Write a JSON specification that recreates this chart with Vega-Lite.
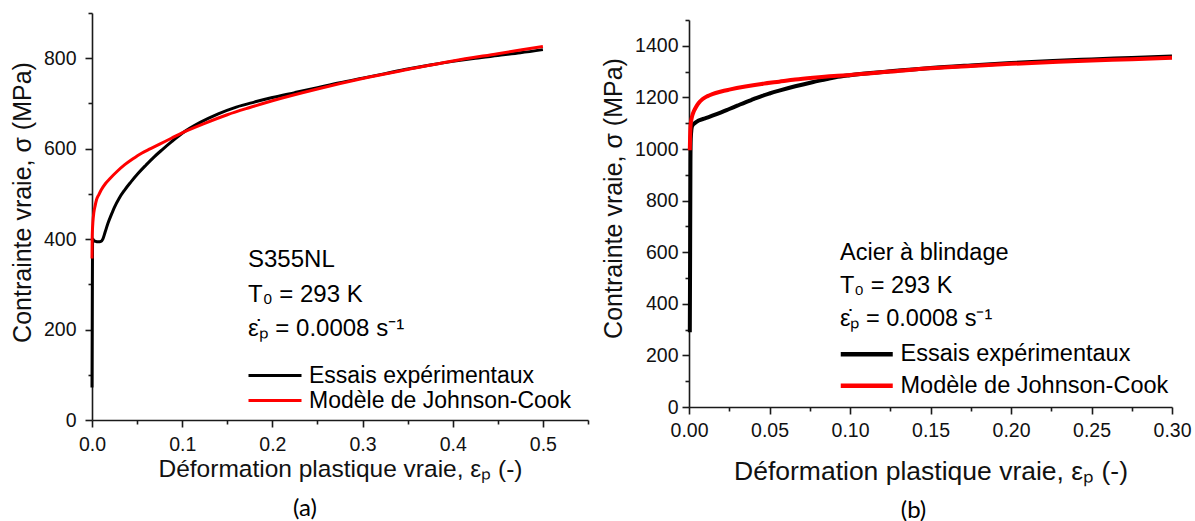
{
  "$schema": "https://vega.github.io/schema/vega-lite/v6.json",
  "padding": {"left": 10, "top": 3, "right": 2, "bottom": 0},
  "background": "white",
  "config": {
    "font": "Liberation Sans",
    "view": {"stroke": null},
    "axis": {"grid": false, "domainColor": "#1a1a1a", "domainWidth": 1.6, "tickColor": "#1a1a1a", "tickWidth": 1.6, "labelColor": "#111", "labelFontSize": 19.5, "labelFont": "Liberation Sans", "titleFont": "Liberation Sans", "titleFontWeight": "normal", "titleColor": "#111", "labelOverlap": false, "labelFlush": false},
    "legend": {"labelFont": "Liberation Sans", "titleFont": "Liberation Sans", "titleFontWeight": "normal", "titleColor": "#000", "labelColor": "#000", "labelLimit": 0, "titleLimit": 0}
  },
  "datasets": {
    "a": [
      {"eps": 0, "sigma": 72, "serie": "Essais expérimentaux"},
      {"eps": 0.0003, "sigma": 250, "serie": "Essais expérimentaux"},
      {"eps": 0.0006, "sigma": 390, "serie": "Essais expérimentaux"},
      {"eps": 0.001, "sigma": 400, "serie": "Essais expérimentaux"},
      {"eps": 0.002, "sigma": 397, "serie": "Essais expérimentaux"},
      {"eps": 0.004, "sigma": 395, "serie": "Essais expérimentaux"},
      {"eps": 0.007, "sigma": 394, "serie": "Essais expérimentaux"},
      {"eps": 0.01, "sigma": 395, "serie": "Essais expérimentaux"},
      {"eps": 0.012, "sigma": 400, "serie": "Essais expérimentaux"},
      {"eps": 0.0145, "sigma": 415, "serie": "Essais expérimentaux"},
      {"eps": 0.0177, "sigma": 435, "serie": "Essais expérimentaux"},
      {"eps": 0.021, "sigma": 452, "serie": "Essais expérimentaux"},
      {"eps": 0.025, "sigma": 471, "serie": "Essais expérimentaux"},
      {"eps": 0.03, "sigma": 490, "serie": "Essais expérimentaux"},
      {"eps": 0.036, "sigma": 508, "serie": "Essais expérimentaux"},
      {"eps": 0.043, "sigma": 526, "serie": "Essais expérimentaux"},
      {"eps": 0.051, "sigma": 545, "serie": "Essais expérimentaux"},
      {"eps": 0.06, "sigma": 564, "serie": "Essais expérimentaux"},
      {"eps": 0.069, "sigma": 582, "serie": "Essais expérimentaux"},
      {"eps": 0.078, "sigma": 598, "serie": "Essais expérimentaux"},
      {"eps": 0.088, "sigma": 615, "serie": "Essais expérimentaux"},
      {"eps": 0.1, "sigma": 634, "serie": "Essais expérimentaux"},
      {"eps": 0.12, "sigma": 658, "serie": "Essais expérimentaux"},
      {"eps": 0.14, "sigma": 677, "serie": "Essais expérimentaux"},
      {"eps": 0.16, "sigma": 692, "serie": "Essais expérimentaux"},
      {"eps": 0.18, "sigma": 703, "serie": "Essais expérimentaux"},
      {"eps": 0.2, "sigma": 713, "serie": "Essais expérimentaux"},
      {"eps": 0.225, "sigma": 724, "serie": "Essais expérimentaux"},
      {"eps": 0.25, "sigma": 735, "serie": "Essais expérimentaux"},
      {"eps": 0.275, "sigma": 746, "serie": "Essais expérimentaux"},
      {"eps": 0.3, "sigma": 756, "serie": "Essais expérimentaux"},
      {"eps": 0.325, "sigma": 766, "serie": "Essais expérimentaux"},
      {"eps": 0.35, "sigma": 776, "serie": "Essais expérimentaux"},
      {"eps": 0.375, "sigma": 785, "serie": "Essais expérimentaux"},
      {"eps": 0.4, "sigma": 793, "serie": "Essais expérimentaux"},
      {"eps": 0.425, "sigma": 800, "serie": "Essais expérimentaux"},
      {"eps": 0.45, "sigma": 806, "serie": "Essais expérimentaux"},
      {"eps": 0.475, "sigma": 812, "serie": "Essais expérimentaux"},
      {"eps": 0.5, "sigma": 819, "serie": "Essais expérimentaux"},
      {"eps": 0, "sigma": 357, "serie": "Modèle de Johnson-Cook"},
      {"eps": 0.0002, "sigma": 400, "serie": "Modèle de Johnson-Cook"},
      {"eps": 0.0005, "sigma": 420, "serie": "Modèle de Johnson-Cook"},
      {"eps": 0.001, "sigma": 438, "serie": "Modèle de Johnson-Cook"},
      {"eps": 0.002, "sigma": 458, "serie": "Modèle de Johnson-Cook"},
      {"eps": 0.0035, "sigma": 474, "serie": "Modèle de Johnson-Cook"},
      {"eps": 0.005, "sigma": 487, "serie": "Modèle de Johnson-Cook"},
      {"eps": 0.0075, "sigma": 498, "serie": "Modèle de Johnson-Cook"},
      {"eps": 0.01, "sigma": 508, "serie": "Modèle de Johnson-Cook"},
      {"eps": 0.015, "sigma": 523, "serie": "Modèle de Johnson-Cook"},
      {"eps": 0.02, "sigma": 534, "serie": "Modèle de Johnson-Cook"},
      {"eps": 0.028, "sigma": 550, "serie": "Modèle de Johnson-Cook"},
      {"eps": 0.036, "sigma": 564, "serie": "Modèle de Johnson-Cook"},
      {"eps": 0.045, "sigma": 577, "serie": "Modèle de Johnson-Cook"},
      {"eps": 0.055, "sigma": 590, "serie": "Modèle de Johnson-Cook"},
      {"eps": 0.065, "sigma": 600, "serie": "Modèle de Johnson-Cook"},
      {"eps": 0.075, "sigma": 610, "serie": "Modèle de Johnson-Cook"},
      {"eps": 0.088, "sigma": 623, "serie": "Modèle de Johnson-Cook"},
      {"eps": 0.1, "sigma": 635, "serie": "Modèle de Johnson-Cook"},
      {"eps": 0.125, "sigma": 656, "serie": "Modèle de Johnson-Cook"},
      {"eps": 0.15, "sigma": 675, "serie": "Modèle de Johnson-Cook"},
      {"eps": 0.175, "sigma": 691, "serie": "Modèle de Johnson-Cook"},
      {"eps": 0.2, "sigma": 706, "serie": "Modèle de Johnson-Cook"},
      {"eps": 0.25, "sigma": 732, "serie": "Modèle de Johnson-Cook"},
      {"eps": 0.3, "sigma": 755, "serie": "Modèle de Johnson-Cook"},
      {"eps": 0.35, "sigma": 775, "serie": "Modèle de Johnson-Cook"},
      {"eps": 0.4, "sigma": 794, "serie": "Modèle de Johnson-Cook"},
      {"eps": 0.45, "sigma": 810, "serie": "Modèle de Johnson-Cook"},
      {"eps": 0.5, "sigma": 826, "serie": "Modèle de Johnson-Cook"}
    ],
    "b": [
      {"eps": 0.0005, "sigma": 290, "serie": "Essais expérimentaux"},
      {"eps": 0.0007, "sigma": 600, "serie": "Essais expérimentaux"},
      {"eps": 0.0009, "sigma": 950, "serie": "Essais expérimentaux"},
      {"eps": 0.0011, "sigma": 1040, "serie": "Essais expérimentaux"},
      {"eps": 0.0015, "sigma": 1075, "serie": "Essais expérimentaux"},
      {"eps": 0.002, "sigma": 1090, "serie": "Essais expérimentaux"},
      {"eps": 0.004, "sigma": 1102, "serie": "Essais expérimentaux"},
      {"eps": 0.006, "sigma": 1110, "serie": "Essais expérimentaux"},
      {"eps": 0.01, "sigma": 1119, "serie": "Essais expérimentaux"},
      {"eps": 0.0145, "sigma": 1129, "serie": "Essais expérimentaux"},
      {"eps": 0.02, "sigma": 1142, "serie": "Essais expérimentaux"},
      {"eps": 0.025, "sigma": 1155, "serie": "Essais expérimentaux"},
      {"eps": 0.03, "sigma": 1168, "serie": "Essais expérimentaux"},
      {"eps": 0.035, "sigma": 1181, "serie": "Essais expérimentaux"},
      {"eps": 0.04, "sigma": 1193, "serie": "Essais expérimentaux"},
      {"eps": 0.0455, "sigma": 1206, "serie": "Essais expérimentaux"},
      {"eps": 0.05, "sigma": 1215, "serie": "Essais expérimentaux"},
      {"eps": 0.056, "sigma": 1226, "serie": "Essais expérimentaux"},
      {"eps": 0.066, "sigma": 1243, "serie": "Essais expérimentaux"},
      {"eps": 0.0766, "sigma": 1259, "serie": "Essais expérimentaux"},
      {"eps": 0.085, "sigma": 1270, "serie": "Essais expérimentaux"},
      {"eps": 0.091, "sigma": 1278, "serie": "Essais expérimentaux"},
      {"eps": 0.1, "sigma": 1286, "serie": "Essais expérimentaux"},
      {"eps": 0.125, "sigma": 1301, "serie": "Essais expérimentaux"},
      {"eps": 0.15, "sigma": 1314, "serie": "Essais expérimentaux"},
      {"eps": 0.175, "sigma": 1324, "serie": "Essais expérimentaux"},
      {"eps": 0.2, "sigma": 1333, "serie": "Essais expérimentaux"},
      {"eps": 0.226, "sigma": 1341, "serie": "Essais expérimentaux"},
      {"eps": 0.25, "sigma": 1347, "serie": "Essais expérimentaux"},
      {"eps": 0.275, "sigma": 1353, "serie": "Essais expérimentaux"},
      {"eps": 0.3, "sigma": 1359, "serie": "Essais expérimentaux"},
      {"eps": 0.0005, "sigma": 995, "serie": "Modèle de Johnson-Cook"},
      {"eps": 0.0007, "sigma": 1050, "serie": "Modèle de Johnson-Cook"},
      {"eps": 0.001, "sigma": 1095, "serie": "Modèle de Johnson-Cook"},
      {"eps": 0.0015, "sigma": 1115, "serie": "Modèle de Johnson-Cook"},
      {"eps": 0.002, "sigma": 1129, "serie": "Modèle de Johnson-Cook"},
      {"eps": 0.003, "sigma": 1146, "serie": "Modèle de Johnson-Cook"},
      {"eps": 0.0042, "sigma": 1161, "serie": "Modèle de Johnson-Cook"},
      {"eps": 0.006, "sigma": 1178, "serie": "Modèle de Johnson-Cook"},
      {"eps": 0.0085, "sigma": 1194, "serie": "Modèle de Johnson-Cook"},
      {"eps": 0.0115, "sigma": 1205, "serie": "Modèle de Johnson-Cook"},
      {"eps": 0.0145, "sigma": 1213, "serie": "Modèle de Johnson-Cook"},
      {"eps": 0.02, "sigma": 1223, "serie": "Modèle de Johnson-Cook"},
      {"eps": 0.025, "sigma": 1230, "serie": "Modèle de Johnson-Cook"},
      {"eps": 0.035, "sigma": 1242, "serie": "Modèle de Johnson-Cook"},
      {"eps": 0.045, "sigma": 1252, "serie": "Modèle de Johnson-Cook"},
      {"eps": 0.056, "sigma": 1261, "serie": "Modèle de Johnson-Cook"},
      {"eps": 0.066, "sigma": 1269, "serie": "Modèle de Johnson-Cook"},
      {"eps": 0.077, "sigma": 1276, "serie": "Modèle de Johnson-Cook"},
      {"eps": 0.09, "sigma": 1283, "serie": "Modèle de Johnson-Cook"},
      {"eps": 0.1, "sigma": 1287, "serie": "Modèle de Johnson-Cook"},
      {"eps": 0.125, "sigma": 1300, "serie": "Modèle de Johnson-Cook"},
      {"eps": 0.15, "sigma": 1313, "serie": "Modèle de Johnson-Cook"},
      {"eps": 0.175, "sigma": 1322, "serie": "Modèle de Johnson-Cook"},
      {"eps": 0.2, "sigma": 1330, "serie": "Modèle de Johnson-Cook"},
      {"eps": 0.226, "sigma": 1337, "serie": "Modèle de Johnson-Cook"},
      {"eps": 0.25, "sigma": 1343, "serie": "Modèle de Johnson-Cook"},
      {"eps": 0.275, "sigma": 1348, "serie": "Modèle de Johnson-Cook"},
      {"eps": 0.3, "sigma": 1354, "serie": "Modèle de Johnson-Cook"}
    ]
  },
  "resolve": {"scale": {"color": "independent"}},
  "spacing": 12,
  "hconcat": [
    {
      "width": 496,
      "height": 407,
      "data": {"name": "a"},
      "title": {"text": "(a)", "orient": "bottom", "font": "Lato", "fontSize": 24, "fontWeight": "normal", "color": "#000", "dx": -35, "offset": 16},
      "mark": {"type": "line", "strokeWidth": 3, "interpolate": "monotone"},
      "encoding": {
        "x": {
          "field": "eps", "type": "quantitative",
          "scale": {"domain": [0, 0.55], "nice": false},
          "axis": {
            "title": "Déformation plastique vraie, εₚ (-)",
            "titleFontSize": 24.5,
            "values": [0, 0.05, 0.1, 0.15, 0.2, 0.25, 0.3, 0.35, 0.4, 0.45, 0.5, 0.55],
            "labelExpr": "round(datum.value*20) % 2 === 0 ? format(datum.value, '.1f') : ''",
            "tickSize": {"condition": {"test": "round(datum.value*20) % 2 === 0", "value": 7}, "value": 4},
            "labelPadding": 8,
            "titlePadding": 4
          }
        },
        "y": {
          "field": "sigma", "type": "quantitative",
          "scale": {"domain": [0, 900], "nice": false},
          "axis": {
            "title": "Contrainte vraie, σ (MPa)",
            "titleFontSize": 25,
            "titleY": 189,
            "values": [0, 100, 200, 300, 400, 500, 600, 700, 800, 900],
            "labelExpr": "datum.value % 200 === 0 ? format(datum.value, 'd') : ''",
            "tickSize": {"condition": {"test": "datum.value % 200 === 0", "value": 7}, "value": 4},
            "labelPadding": 9,
            "titlePadding": 8
          }
        },
        "color": {
          "field": "serie", "type": "nominal",
          "scale": {"domain": ["Essais expérimentaux", "Modèle de Johnson-Cook"], "range": ["#000000", "#ff0000"]},
          "legend": {
            "orient": "none", "legendX": 156, "legendY": 235, "padding": 0,
            "title": ["S355NL", "T₀ = 293 K", "ε̇ₚ = 0.0008 s⁻¹"],
            "titleFontSize": 24, "titleLineHeight": 34.5, "titlePadding": 23,
            "labelFontSize": 23, "labelOffset": 38,
            "symbolType": "M-2.2,0H8.4", "symbolSize": 100, "symbolStrokeWidth": 3,
            "rowPadding": 1
          }
        }
      }
    },
    {
      "spacing": -4,
      "vconcat": [
        {
          "width": 483,
          "height": 1,
          "data": {"values": []},
          "mark": "point"
        },
        {
          "width": 483,
          "height": 387,
          "data": {"name": "b"},
          "title": {"text": "(b)", "orient": "bottom", "anchor": "middle", "font": "Lato", "fontSize": 24, "fontWeight": "normal", "color": "#000", "dx": -17, "offset": 14},
          "mark": {"type": "line", "strokeWidth": 4, "interpolate": "monotone"},
          "encoding": {
            "x": {
              "field": "eps", "type": "quantitative",
              "scale": {"domain": [0, 0.3], "nice": false},
              "axis": {
                "title": "Déformation plastique vraie, εₚ (-)",
                "titleFontSize": 26.5,
                "values": [0, 0.025, 0.05, 0.075, 0.1, 0.125, 0.15, 0.175, 0.2, 0.225, 0.25, 0.275, 0.3],
                "labelExpr": "round(datum.value*40) % 2 === 0 ? format(datum.value, '.2f') : ''",
                "tickSize": {"condition": {"test": "round(datum.value*40) % 2 === 0", "value": 7}, "value": 4},
                "labelPadding": 7,
                "titlePadding": 19
              }
            },
            "y": {
              "field": "sigma", "type": "quantitative",
              "scale": {"domain": [0, 1500], "nice": false},
              "axis": {
                "title": "Contrainte vraie, σ (MPa)",
                "titleFontSize": 25,
                "titleY": 178,
                "values": [0, 100, 200, 300, 400, 500, 600, 700, 800, 900, 1000, 1100, 1200, 1300, 1400, 1500],
                "labelExpr": "datum.value % 200 === 0 ? format(datum.value, 'd') : ''",
                "tickSize": {"condition": {"test": "datum.value % 200 === 0", "value": 7}, "value": 4},
                "labelPadding": 4,
                "titlePadding": 8
              }
            },
            "color": {
              "field": "serie", "type": "nominal",
              "scale": {"domain": ["Essais expérimentaux", "Modèle de Johnson-Cook"], "range": ["#000000", "#ff0000"]},
              "legend": {
                "orient": "none", "legendX": 151, "legendY": 228, "padding": 0,
                "title": ["Acier à blindage", "T₀ = 293 K", "ε̇ₚ = 0.0008 s⁻¹"],
                "titleFontSize": 23.5, "titleLineHeight": 33, "titlePadding": 12,
                "labelFontSize": 23.5, "labelOffset": 37,
                "symbolType": "M-2.2,0H8.2", "symbolSize": 100, "symbolStrokeWidth": 4.5,
                "rowPadding": 6.5
              }
            }
          }
        }
      ]
    }
  ]
}
